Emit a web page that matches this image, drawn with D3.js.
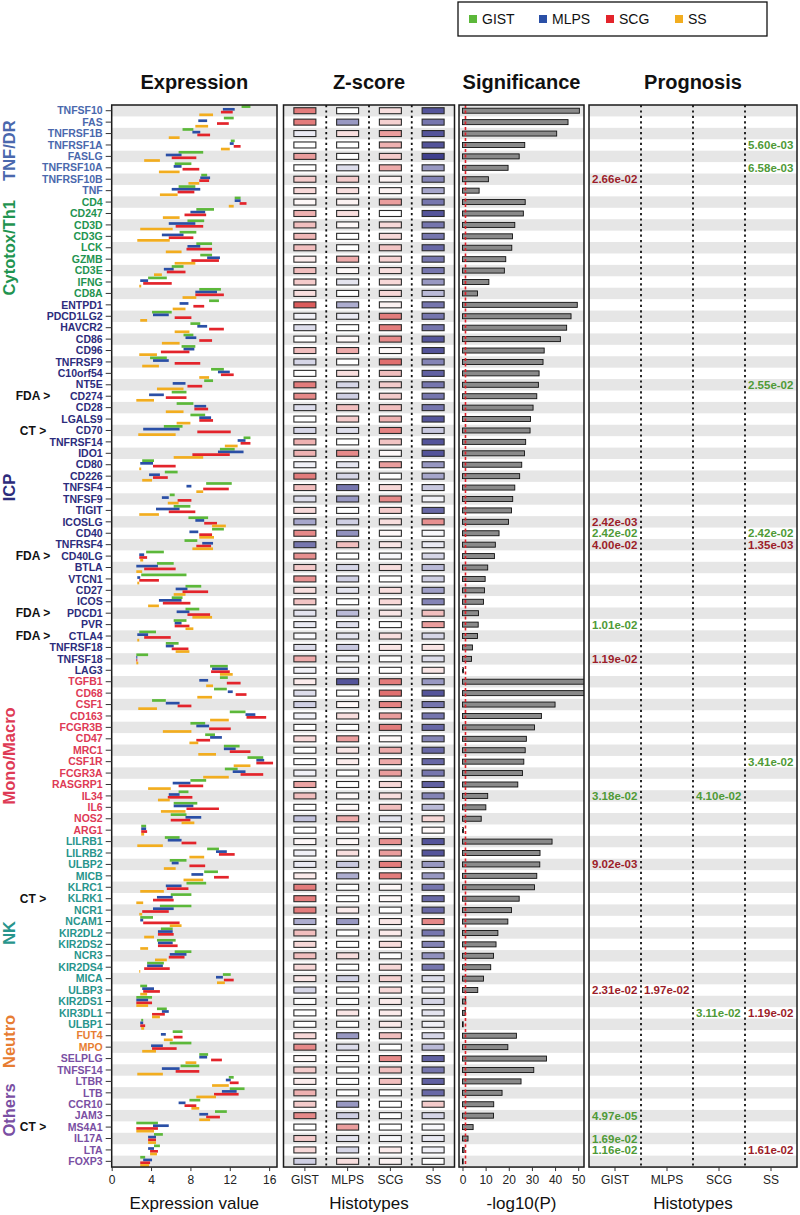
<!DOCTYPE html>
<html><head><meta charset="utf-8">
<script src="https://cdn.jsdelivr.net/npm/d3@7"></script>
<style>
body{margin:0;background:#fff;}
svg{display:block;font-family:"Liberation Sans",Arial,Helvetica,sans-serif;}
</style>
</head><body>
<svg id="chart" width="800" height="1215"></svg>
<script>
// ---------------- DATA ----------------
const genes = ["TNFSF10","FAS","TNFRSF1B","TNFRSF1A","FASLG","TNFRSF10A","TNFRSF10B","TNF",
"CD4","CD247","CD3D","CD3G","LCK","GZMB","CD3E","IFNG","CD8A",
"ENTPD1","PDCD1LG2","HAVCR2","CD86","CD96","TNFRSF9","C10orf54","NT5E","CD274","CD28","LGALS9","CD70","TNFRSF14","IDO1","CD80","CD226","TNFSF4","TNFSF9","TIGIT","ICOSLG","CD40","TNFRSF4","CD40LG","BTLA","VTCN1","CD27","ICOS","PDCD1","PVR","CTLA4","TNFRSF18","TNFSF18","LAG3",
"TGFB1","CD68","CSF1","CD163","FCGR3B","CD47","MRC1","CSF1R","FCGR3A","RASGRP1","IL34","IL6","NOS2","ARG1",
"LILRB1","LILRB2","ULBP2","MICB","KLRC1","KLRK1","NCR1","NCAM1","KIR2DL2","KIR2DS2","NCR3","KIR2DS4","MICA","ULBP3","KIR2DS1","KIR3DL1","ULBP1",
"FUT4","MPO",
"SELPLG","TNFSF14","LTBR","LTB","CCR10","JAM3","MS4A1","IL17A","LTA","FOXP3"];

const groupNames = ["TNF/DR","Cytotox/Th1","ICP","Mono/Macro","NK","Neutro","Others"];
const groupSizes = [8,9,33,14,17,2,10];
const groupColors = ["#4a68ad","#1f9450","#2c2c7c","#de3a55","#27958c","#e77d32","#7a4fa3"];

const histotypes = ["GIST","MLPS","SCG","SS"];
const histColors = ["#5cb83a","#2a4fa6","#e3242b","#f2ad1f"];

// Expression ranges [low, high] per histotype
const exprGIST = [[13.2,14.1],[11.4,12.4],[7.2,8.3],[12.1,12.5],[6.8,9.3],[6.4,8.1],[9.1,9.7],[6.8,8.5],
[12.5,13.1],[8.6,10.4],[7.7,9.4],[6.9,8.6],[8.6,10.2],[9.0,10.2],[6.1,7.3],[3.7,5.6],[8.9,11.1],
[9.9,10.9],[4.1,6.1],[8.0,9.0],[7.3,8.3],[7.1,8.5],[3.9,5.6],[10.1,11.4],[9.4,10.3],[6.1,7.6],[6.6,8.3],[8.0,9.5],[5.3,7.2],[13.4,14.1],[11.0,12.5],[3.1,4.3],[5.4,6.7],[9.6,12.2],[5.9,6.4],[6.3,8.0],[7.8,9.8],[10.2,11.4],[7.4,8.7],[3.5,5.3],[4.6,6.3],[3.0,7.6],[7.5,9.1],[6.1,7.2],[7.5,8.9],[6.3,7.6],[2.8,4.5],[5.5,6.8],[2.5,3.7],[10.0,11.8],
[11.0,11.8],[10.4,11.7],[4.1,5.5],[12.0,13.6],[8.0,9.5],[9.5,10.5],[11.4,13.0],[13.8,15.4],[11.5,12.8],[8.0,9.6],[6.8,7.8],[6.3,8.7],[6.0,7.6],[3.0,3.5],
[5.4,6.9],[9.7,10.9],[5.9,7.6],[9.4,10.8],[7.6,9.6],[6.0,8.1],[4.9,8.1],[2.9,4.2],[5.0,6.2],[4.6,6.5],[6.4,8.1],[3.6,5.3],[11.3,12.1],[2.9,3.6],[2.5,4.1],[4.6,5.6],[3.0,3.2],
[6.2,7.2],[5.9,8.1],
[8.9,9.8],[7.0,8.9],[11.9,12.4],[12.0,13.5],[7.9,9.0],[10.5,11.7],[2.5,4.7],[4.3,5.2],[4.3,4.9],[2.9,3.4]];
const exprMLPS = [[11.3,12.5],[8.8,9.7],[8.2,9.0],[12.0,12.4],[5.5,7.1],[6.3,7.1],[9.0,10.0],[6.1,9.0],
[12.5,13.1],[8.0,9.5],[5.8,8.5],[5.1,7.3],[7.7,9.0],[9.7,11.0],[5.3,6.3],[2.9,3.7],[8.5,10.7],
[6.9,7.8],[4.2,5.8],[8.7,9.7],[7.5,8.6],[7.3,8.4],[4.2,5.8],[10.8,12.0],[6.2,7.5],[3.8,5.3],[8.4,9.6],[8.9,10.1],[3.2,6.9],[12.8,13.6],[10.8,13.4],[2.9,4.2],[3.8,4.9],[7.6,8.1],[5.1,5.8],[4.5,6.9],[8.5,9.4],[7.9,8.8],[9.2,10.3],[2.8,3.3],[2.5,4.7],[2.6,2.9],[6.5,7.7],[4.8,7.1],[6.6,7.9],[6.4,7.1],[2.6,3.7],[5.5,6.3],[2.5,2.6],[10.2,11.8],
[8.9,9.8],[11.8,12.3],[5.5,6.9],[13.6,14.6],[8.6,9.9],[10.0,11.2],[11.4,12.6],[14.7,15.5],[12.3,13.6],[6.2,8.0],[5.8,6.9],[6.3,8.3],[7.5,9.1],[3.0,3.5],
[5.7,7.1],[10.6,11.7],[6.1,6.8],[8.1,9.3],[5.5,7.1],[4.6,6.2],[4.2,6.3],[2.9,3.2],[4.7,6.2],[4.7,6.2],[5.9,7.6],[3.6,5.2],[10.6,11.3],[3.1,4.3],[2.5,3.7],[5.1,5.8],[2.9,3.2],
[5.0,5.5],[4.0,5.2],
[8.9,9.7],[5.1,6.9],[11.6,12.1],[11.2,12.7],[6.8,7.5],[8.9,9.8],[4.2,5.8],[3.7,4.5],[3.7,4.3],[3.2,4.1]];
const exprSCG = [[11.1,12.3],[10.7,11.9],[8.7,10.0],[12.4,13.1],[6.1,8.6],[7.2,8.9],[8.9,9.9],[6.7,8.4],
[13.0,13.7],[7.4,9.6],[6.5,9.3],[5.8,8.3],[7.6,10.2],[8.1,10.9],[5.6,7.5],[3.2,6.1],[8.5,11.4],
[8.3,9.4],[6.4,8.1],[9.9,11.4],[8.9,10.2],[5.0,7.9],[6.4,9.0],[11.1,12.4],[7.7,9.2],[5.5,7.6],[8.4,9.8],[8.9,10.3],[8.7,12.1],[13.1,14.1],[8.2,12.0],[4.2,6.5],[4.2,5.7],[9.3,11.9],[6.7,8.1],[5.8,8.5],[9.4,10.7],[8.9,10.2],[8.6,10.1],[2.8,3.6],[3.3,6.5],[2.8,4.8],[7.2,9.8],[5.2,8.0],[7.7,10.0],[6.4,7.9],[3.3,6.0],[6.1,7.8],[2.5,2.6],[10.1,12.0],
[11.7,13.1],[12.6,13.7],[6.7,8.1],[13.7,15.7],[9.9,12.1],[8.6,10.0],[12.0,14.1],[14.7,16.4],[13.1,15.4],[6.8,9.3],[5.7,8.2],[7.6,10.9],[6.0,8.0],[3.0,3.6],
[7.1,8.6],[10.9,12.5],[7.9,9.5],[10.4,11.9],[5.6,7.8],[4.2,6.3],[3.1,5.8],[3.2,6.9],[4.7,6.3],[4.7,6.7],[5.8,7.4],[3.3,5.9],[11.4,12.4],[3.2,4.9],[2.5,4.1],[4.1,5.4],[2.9,3.4],
[6.3,7.2],[4.1,6.6],
[10.1,11.2],[6.5,8.9],[12.0,12.9],[10.4,12.9],[7.4,8.6],[9.6,11.0],[2.5,4.7],[3.7,4.5],[3.9,4.7],[2.9,3.9]];
const exprSS = [[8.9,10.3],[8.5,9.8],[5.8,6.9],[11.1,12.0],[3.3,4.9],[4.8,6.9],[7.8,8.9],[4.9,6.7],
[11.9,12.4],[5.2,6.9],[2.9,6.2],[2.6,5.9],[5.5,7.1],[6.4,8.5],[4.3,5.1],[2.8,3.0],[7.2,8.6],
[6.2,7.5],[2.9,3.6],[6.4,7.9],[5.1,6.9],[2.8,4.6],[3.1,4.8],[8.9,9.9],[4.6,7.3],[2.5,4.3],[5.5,7.3],[6.6,8.0],[2.7,6.5],[11.5,12.8],[6.3,9.3],[2.8,3.0],[3.1,4.1],[8.6,9.3],[5.7,6.8],[2.8,4.8],[10.2,11.6],[8.9,10.4],[8.2,10.3],[2.9,3.2],[2.5,3.1],[2.6,2.8],[6.3,7.5],[3.7,4.8],[8.2,10.2],[7.5,8.3],[2.6,2.8],[6.5,7.9],[2.5,2.7],[11.0,12.3],
[9.6,10.3],[8.7,10.2],[2.7,4.6],[10.0,11.9],[5.2,8.1],[7.9,8.8],[8.8,10.6],[12.4,14.1],[9.3,11.9],[3.7,6.0],[4.7,5.9],[5.0,7.5],[7.1,8.4],[3.0,3.3],
[2.6,5.2],[7.9,9.4],[5.3,6.5],[7.3,9.3],[2.9,5.3],[2.5,3.2],[2.8,3.1],[5.9,7.1],[3.3,4.3],[2.9,3.7],[4.4,5.6],[2.8,2.9],[10.7,11.5],[2.9,3.6],[2.5,3.7],[4.1,4.9],[3.0,3.3],
[5.3,6.2],[3.1,4.5],
[7.5,8.6],[2.6,5.2],[10.2,11.9],[8.6,10.6],[8.1,8.9],[8.9,10.0],[2.5,4.3],[3.7,4.5],[3.9,4.6],[2.9,3.8]];

// Z-scores per histotype
const zGIST = [2.0,2.0,-0.3,0,1.5,0,0.8,0.6, 0.1,1.2,1.0,1.1,1.0,0.3,1.0,0.8,0.5,
2.5,-0.2,-0.5,0,1.0,-0.6,0,2.0,1.8,-0.5,0,-0.6,1.2,1.2,-0.2,2.0,1.0,-0.5,0.6,-1.3,1.8,-2.0,1.7,0.8,1.7,0.5,0.9,-0.4,-0.3,-0.1,-0.5,1.3,-0.2,
0.3,-0.5,-0.7,-0.2,0,0.6,0,0,-0.2,1.4,1.0,0,-0.9,0,
0.1,-0.2,-0.3,0.3,2.0,2.0,2.0,-1.2,1.0,0.6,1.0,0.6,0.4,-0.6,0,0,0,
0.6,1.8, 0.1,0.8,0.3,1.2,0.8,1.8,0,0.8,0.6,-0.7];
const zMLPS = [0,-1.5,0.5,0,0,-0.5,0.8,0.5, 0.2,0.5,0.1,0,0,1.3,0.1,-0.4,0,
-1.2,-0.3,0,0.1,1.3,0,0.5,-0.6,-0.7,1.0,0.8,-0.5,0,1.8,-0.4,-0.6,-2.0,-1.5,0,-0.7,-1.6,1.0,0,-0.6,-0.7,-0.4,0,-1.0,-0.5,-0.4,-0.8,-0.2,-0.2,
-2.5,0,0.1,0.5,0,1.5,0.4,0.3,0,0,0.1,0.1,1.3,0,
0.1,0.5,-0.8,-1.2,0,0,0.3,-1.5,0,0,0.5,0,-0.7,0,0,0.4,0,
-1.5,-0.5, 0,0,0,0,-1.5,-0.7,1.5,-0.4,-0.6,0.5];
const zSCG = [0.5,0.7,1.5,1.2,0.8,1.3,0.2,0.2, 1.5,0,0.6,0.6,0.9,0.7,0.5,0.6,0.6,
0.2,2.0,2.0,1.8,0.1,2.2,1.0,0.8,0.8,1.0,1.2,1.9,0.9,0.1,1.5,0,0.6,1.8,0.8,0.5,0.1,0.4,-0.1,0.5,0,0.5,0.6,0.4,0,0.5,0.4,0,0,
2.0,2.2,1.9,1.5,2.0,0.1,1.3,1.3,1.5,0.6,0.5,1.0,-0.4,0,
1.7,1.5,2.0,2.0,0.1,0.1,0,0.4,0.3,0.5,0,0.6,0.7,0.6,0.3,0.3,0.3,
1.0,0, 1.8,1.0,1.0,0,0,0,0,-0.1,0.3,0.2];
const zSS = [-2.5,-2,-2.5,-2.5,-2.8,-1.5,-1.8,-1.3, -2,-2.5,-2,-2,-2.2,-2,-2,-1.5,-1.0,
-2,-2,-2,-2.5,-2.5,-1.8,-2.3,-2,-2,-2,-2.5,-0.8,-2.5,-2.5,-1.5,-1.3,-0.8,-0.2,-2.2,1.7,-0.1,-0.3,-0.6,-1.0,-0.7,-1.4,-1.8,1.0,1.5,-0.6,0.4,-0.5,0.4,
-1.5,-2.5,-2.0,-2.0,-2.2,-1.8,-2.2,-2.2,-2.0,-2.3,-1.8,-1.0,0.6,0.1,
-2.5,-2.5,-1.5,-1.5,-2.0,-2.2,-2.2,1.8,-2.0,-1.8,-1.6,-2.0,-0.5,-0.3,-0.6,-0.4,-0.2,
-0.6,-1.0, -2.3,-2.0,-2.3,-2.2,0.8,-0.6,-0.1,-0.3,-0.2,0];

// Significance, -log10(P)
const significance = [50.5,45.6,40.7,26.9,24.5,19.7,11.2,7.2,
27.1,26.3,22.6,21.6,21.3,18.7,18.1,11.4,6.5,
49.6,46.9,45.0,42.3,35.3,34.8,33.1,32.8,32.1,30.5,29.4,29.2,27.3,26.8,25.6,24.7,22.6,21.7,21.2,19.9,15.8,14.2,13.8,10.9,9.8,9.5,9.1,6.9,6.8,6.5,4.3,3.9,0.4,
58,56,40.0,34.1,31.1,27.6,27.1,26.5,25.9,23.9,10.9,10.1,8.1,0.4,
38.7,33.5,33.4,32.1,31.1,24.5,21.2,19.6,15.3,14.5,13.4,12.2,9.1,6.6,1.4,1.2,0.3,
23.3,19.6,
36.3,30.8,25.3,17.1,13.5,13.4,4.6,2.4,0.7,0.3];
const sigThreshold = 1.3;
const sigTicks = [0,10,20,30,40,50];
const exprTicks = [0,4,8,12,16];

// Prognosis annotations
const progGene = ["TNFRSF1A","TNFRSF10A","TNFRSF10B","NT5E","ICOSLG","CD40","CD40","TNFRSF4","TNFRSF4","PVR","TNFSF18","CSF1R","IL34","IL34","ULBP2","ULBP3","ULBP3","KIR3DL1","KIR3DL1","JAM3","IL17A","LTA","LTA"];
const progHist = ["SS","SS","GIST","SS","GIST","GIST","SS","GIST","SS","GIST","GIST","SS","GIST","SCG","GIST","GIST","MLPS","SCG","SS","GIST","GIST","GIST","SS"];
const progText = ["5.60e-03","6.58e-03","2.66e-02","2.55e-02","2.42e-03","2.42e-02","2.42e-02","4.00e-02","1.35e-03","1.01e-02","1.19e-02","3.41e-02","3.18e-02","4.10e-02","9.02e-03","2.31e-02","1.97e-02","3.11e-02","1.19e-02","4.97e-05","1.69e-02","1.16e-02","1.61e-02"];
const progFavorable = [1,1,0,1,0,1,1,0,0,1,0,1,1,1,0,0,0,1,0,1,1,1,0];

// Marker annotations
const markGene = ["CD274","CD70","CD40LG","PDCD1","CTLA4","KLRK1","MS4A1"];
const markText = ["FDA >","CT >","FDA >","FDA >","FDA >","CT >","CT >"];

// ---------------- DRAW ----------------
const svg = d3.select("#chart");
const fontFam = '"Liberation Sans",Arial,Helvetica,sans-serif';
const nRows = genes.length;
const topY = 105, rowH = 11.42, bottomY = topY + nRows*rowH;

const y = d3.scaleBand().domain(genes).range([topY, bottomY]).padding(0);
const yc = g => y(g) + y.bandwidth()/2;

const P = {
  expr: [111.7, 277],
  z: [283.5, 454.5],
  sig: [459, 584],
  prog: [589, 797]
};

const xExpr = d3.scaleLinear().domain([0, 16.8]).range(P.expr);
const xZ = d3.scaleBand().domain(histotypes).range(P.z).padding(0);
const xSig = d3.scaleLinear().domain([-1.5, 52.5]).range(P.sig);
const xProg = d3.scaleBand().domain(histotypes).range(P.prog).padding(0);

const zColor = d3.scaleLinear().domain([-2.8, 0, 2.8]).range(["#3f3f8e", "#ffffff", "#d84848"]).clamp(true);

// stripes in each panel
Object.values(P).forEach(([x0, x1]) => {
  svg.append("g").selectAll("rect").data(genes.filter((g,i)=> i%2===0)).join("rect")
    .attr("x", x0).attr("width", x1-x0)
    .attr("y", g=>y(g)).attr("height", y.bandwidth())
    .attr("fill", "#e6e6e6");
});

// dotted separators
function separators(scale) {
  const g = svg.append("g");
  histotypes.slice(1).forEach(h => {
    g.append("line").attr("x1", scale(h)).attr("x2", scale(h))
      .attr("y1", topY).attr("y2", bottomY)
      .attr("stroke", "#111").attr("stroke-width", 1.8).attr("stroke-dasharray", "2.2,3.2");
  });
}
separators(xZ);
separators(xProg);

// Expression segments
const exprSets = [exprGIST, exprMLPS, exprSCG, exprSS];
const offsets = [-4.1, -1.4, 1.4, 4.1];
const gExpr = svg.append("g");
exprSets.forEach((arr, k) => {
  gExpr.append("g").selectAll("line").data(arr).join("line")
    .attr("x1", d => xExpr(d[0])).attr("x2", d => Math.max(xExpr(d[1]), xExpr(d[0])+1))
    .attr("y1", (d,i) => yc(genes[i]) + offsets[k])
    .attr("y2", (d,i) => yc(genes[i]) + offsets[k])
    .attr("stroke", histColors[k]).attr("stroke-width", 2.7);
});

// Z-score boxes
const zSets = [zGIST, zMLPS, zSCG, zSS];
const boxW = 22, boxH = 6;
zSets.forEach((arr, k) => {
  const h = histotypes[k];
  svg.append("g").selectAll("rect").data(arr).join("rect")
    .attr("x", xZ(h) + xZ.bandwidth()/2 - boxW/2)
    .attr("y", (d,i) => yc(genes[i]) - boxH/2)
    .attr("width", boxW).attr("height", boxH)
    .attr("fill", d => zColor(d))
    .attr("stroke", "#2a2a2a").attr("stroke-width", 1.1);
});

// Significance bars
svg.append("clipPath").attr("id","sigclip").append("rect")
  .attr("x", P.sig[0]).attr("y", topY).attr("width", P.sig[1]-P.sig[0]).attr("height", bottomY-topY);
const barH = 5;
svg.append("g").attr("clip-path","url(#sigclip)").selectAll("rect").data(significance).join("rect")
  .attr("x", xSig(0))
  .attr("y", (d,i) => yc(genes[i]) - barH/2)
  .attr("width", d => Math.max(0, xSig(d) - xSig(0)))
  .attr("height", barH)
  .attr("fill", "#8a8a8a").attr("stroke", "#111").attr("stroke-width", 0.9);
svg.append("line").attr("x1", xSig(sigThreshold)).attr("x2", xSig(sigThreshold))
  .attr("y1", topY).attr("y2", bottomY)
  .attr("stroke", "#e0202a").attr("stroke-width", 1.6).attr("stroke-dasharray", "3,2.5");

// Prognosis texts
svg.append("g").selectAll("text").data(progText).join("text")
  .attr("x", (d,i) => xProg(progHist[i]) + 3)
  .attr("y", (d,i) => yc(progGene[i]))
  .attr("dy", "0.35em")
  .attr("font-size", 11.5).attr("font-weight", "bold")
  .attr("fill", (d,i) => progFavorable[i] ? "#4f9a37" : "#9c1d2a")
  .text(d => d);

// Panel borders
Object.values(P).forEach(([x0, x1]) => {
  svg.append("rect").attr("x", x0).attr("y", topY).attr("width", x1-x0).attr("height", bottomY-topY)
    .attr("fill", "none").attr("stroke", "#1a1a1a").attr("stroke-width", 1.5);
});

// Gene labels with ticks
const geneGroup = [];
groupSizes.forEach((s, gi) => { for (let i=0;i<s;i++) geneGroup.push(gi); });
const gLab = svg.append("g");
gLab.selectAll("line").data(genes).join("line")
  .attr("x1", P.expr[0]-6).attr("x2", P.expr[0])
  .attr("y1", g=>yc(g)).attr("y2", g=>yc(g))
  .attr("stroke", "#333").attr("stroke-width", 1);
gLab.selectAll("text").data(genes).join("text")
  .attr("x", P.expr[0]-9).attr("y", g=>yc(g)).attr("dy","0.35em")
  .attr("text-anchor","end").attr("font-size", 10.5).attr("font-weight","bold")
  .attr("fill", (g,i)=>groupColors[geneGroup[i]])
  .text(g=>g);

// Group labels
let startIdx = 0;
groupNames.forEach((name, gi) => {
  const first = genes[startIdx], last = genes[startIdx + groupSizes[gi] - 1];
  const cy = (y(first) + y(last) + y.bandwidth())/2;
  svg.append("text")
    .attr("transform", `translate(15,${cy}) rotate(-90)`)
    .attr("text-anchor","middle").attr("font-size", 16.5).attr("font-weight","bold")
    .attr("fill", groupColors[gi]).text(name);
  startIdx += groupSizes[gi];
});

// Marker annotations
svg.append("g").selectAll("text").data(markText).join("text")
  .attr("x", 33).attr("y", (d,i)=>yc(markGene[i])).attr("dy","0.35em")
  .attr("text-anchor","middle").attr("font-size", 12).attr("font-weight","bold")
  .attr("fill","#111").text(d=>d);

// Headers
const headers = ["Expression","Z-score","Significance","Prognosis"];
Object.values(P).forEach(([x0,x1], i) => {
  svg.append("text").attr("x", (x0+x1)/2).attr("y", 82).attr("dy","0.35em")
    .attr("text-anchor","middle").attr("font-size", 20).attr("font-weight","bold")
    .attr("fill","#111").text(headers[i]);
});

// Bottom axes
function axisBottom(scale, ticks) {
  const g = svg.append("g").attr("transform", `translate(0,${bottomY})`);
  const ax = d3.axisBottom(scale).tickSize(4).tickPadding(4);
  if (ticks) ax.tickValues(ticks);
  g.call(ax);
  g.select(".domain").remove();
  g.selectAll(".tick line").attr("stroke","#333");
  g.selectAll(".tick text").attr("font-size", 12).attr("font-family", fontFam).attr("fill","#222");
}
axisBottom(xExpr, exprTicks);
axisBottom(xZ);
axisBottom(xSig, sigTicks);
axisBottom(xProg);

const axisTitles = ["Expression value","Histotypes","-log10(P)","Histotypes"];
Object.values(P).forEach(([x0,x1], i) => {
  svg.append("text").attr("x", (x0+x1)/2).attr("y", bottomY+36).attr("dy","0.35em")
    .attr("text-anchor","middle").attr("font-size", 17).attr("fill","#111").text(axisTitles[i]);
});

// Legend
const lg = svg.append("g");
lg.append("rect").attr("x", 458).attr("y", 2).attr("width", 309).attr("height", 34)
  .attr("fill","#fff").attr("stroke","#111").attr("stroke-width", 1.3);
const legendX = [469, 539, 606, 675];
histotypes.forEach((h, k) => {
  lg.append("rect").attr("x", legendX[k]).attr("y", 15).attr("width", 8).attr("height", 8).attr("fill", histColors[k]);
  lg.append("text").attr("x", legendX[k]+13).attr("y", 19).attr("dy","0.35em")
    .attr("font-size", 14).attr("fill","#111").text(h);
});
</script>
</body></html>
